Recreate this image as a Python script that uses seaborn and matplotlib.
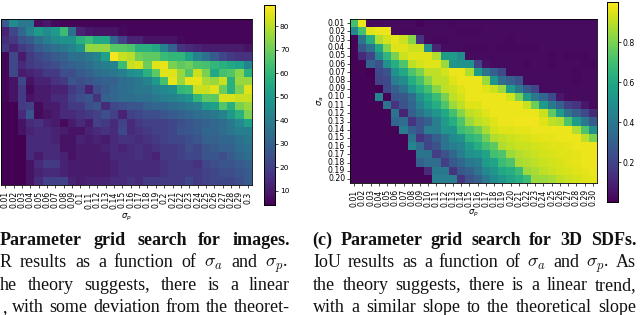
import matplotlib
matplotlib.use("Agg")
import matplotlib.pyplot as plt
import seaborn as sns
import pandas as pd

# values
sigma_p_left = ['0.01', '0.02', '0.03', '0.04', '0.05', '0.06', '0.07', '0.08', '0.09', '0.1',
                '0.11', '0.12', '0.13', '0.14', '0.15', '0.16', '0.17', '0.18', '0.19', '0.2',
                '0.21', '0.22', '0.23', '0.24', '0.25', '0.26', '0.27', '0.28', '0.29', '0.3']
sigma_p_right = ['%.2f' % (i / 100) for i in range(1, 31)]
sigma_a = ['%.2f' % (i / 100) for i in range(1, 21)]

psnr = [
    [28, 45, 38, 38, 7, 9, 6, 5, 5, 5, 5, 5, 5, 5, 5, 5, 5, 5, 5, 5, 5, 5, 5, 5, 5, 5, 5, 5, 5, 5],
    [12, 22, 32, 42, 50, 45, 50, 62, 35, 12, 9, 8, 8, 8, 6, 5, 5, 5, 5, 5, 5, 5, 5, 5, 5, 5, 5, 5, 5, 5],
    [15, 18, 25, 28, 35, 40, 45, 47, 47, 58, 62, 55, 55, 32, 20, 12, 12, 8, 8, 8, 8, 6, 5, 5, 5, 5, 5, 5, 5, 5],
    [18, 12, 18, 22, 28, 32, 35, 38, 42, 48, 75, 75, 75, 67, 67, 65, 58, 58, 55, 42, 30, 17, 14, 12, 10, 10, 10, 10, 10, 8],
    [5, 22, 10, 18, 22, 25, 28, 30, 35, 35, 38, 42, 52, 88, 82, 80, 70, 68, 68, 62, 60, 60, 52, 42, 36, 28, 22, 18, 16, 16],
    [5, 22, 14, 18, 20, 22, 24, 28, 30, 32, 34, 38, 40, 42, 62, 82, 84, 70, 85, 86, 72, 68, 70, 65, 64, 60, 58, 55, 52, 42],
    [5, 22, 10, 12, 14, 18, 18, 24, 24, 28, 30, 34, 36, 38, 40, 46, 48, 58, 68, 85, 85, 76, 66, 82, 72, 55, 64, 66, 74, 58],
    [5, 8, 22, 8, 12, 12, 16, 18, 26, 24, 26, 28, 30, 30, 34, 36, 38, 42, 50, 64, 86, 76, 86, 86, 78, 76, 82, 58, 76, 76],
    [5, 8, 18, 6, 10, 10, 12, 12, 18, 22, 12, 24, 28, 32, 34, 36, 38, 38, 42, 44, 46, 60, 62, 82, 82, 85, 70, 58, 72, 85],
    [5, 8, 18, 8, 10, 10, 14, 14, 20, 24, 26, 16, 30, 32, 34, 34, 36, 36, 38, 40, 42, 44, 48, 60, 68, 68, 84, 84, 82, 82],
    [4, 4, 18, 20, 6, 10, 10, 14, 18, 18, 24, 26, 14, 22, 24, 26, 26, 30, 32, 32, 34, 36, 38, 40, 50, 52, 66, 58, 72, 76],
    [4, 4, 14, 26, 6, 8, 10, 14, 14, 16, 18, 20, 24, 20, 12, 20, 22, 24, 24, 26, 28, 30, 32, 34, 36, 38, 42, 50, 58, 72],
    [4, 4, 8, 14, 16, 12, 10, 6, 10, 14, 10, 20, 18, 14, 20, 14, 18, 20, 20, 20, 22, 24, 26, 28, 30, 32, 34, 38, 44, 52],
    [4, 4, 8, 12, 14, 14, 12, 10, 8, 8, 12, 14, 16, 14, 22, 14, 16, 18, 20, 20, 22, 26, 26, 28, 32, 32, 34, 38, 40, 40],
    [4, 4, 4, 14, 14, 14, 12, 8, 8, 12, 10, 12, 10, 14, 16, 16, 14, 16, 18, 20, 22, 22, 24, 26, 30, 30, 32, 32, 36, 38],
    [4, 4, 4, 14, 14, 14, 14, 8, 8, 10, 10, 10, 12, 14, 12, 14, 16, 14, 16, 18, 18, 20, 24, 22, 26, 28, 30, 30, 34, 36],
    [4, 4, 4, 14, 10, 14, 14, 12, 8, 10, 10, 10, 10, 14, 14, 14, 16, 14, 12, 18, 18, 20, 22, 22, 26, 26, 24, 28, 32, 34],
    [4, 4, 4, 8, 14, 18, 18, 12, 10, 10, 10, 10, 10, 12, 14, 14, 14, 14, 14, 16, 18, 18, 18, 16, 22, 24, 26, 26, 28, 30],
    [4, 4, 4, 8, 12, 14, 14, 12, 10, 10, 10, 10, 10, 12, 14, 14, 14, 14, 14, 16, 18, 18, 18, 18, 20, 22, 24, 24, 26, 28],
    [4, 4, 4, 8, 14, 20, 20, 20, 12, 10, 12, 12, 12, 14, 14, 16, 14, 18, 18, 18, 18, 18, 22, 18, 20, 22, 22, 22, 24, 28],
]

iou = [
    [.70, .97, .02, .02, .03, .03, .03, .03, .01, .03, .03, .03, .02, .03, .03, .03, .03, .03, .03, .03, .03, .03, .03, .03, .03, .03, .03, .03, .03, .03],
    [.47, .70, .95, .97, .97, .03, .02, .02, .03, .03, .03, .03, .03, .02, .02, .02, .03, .03, .03, .03, .03, .03, .03, .03, .03, .03, .03, .03, .03, .03],
    [.01, .38, .62, .88, .93, .96, .92, .82, .15, .03, .02, .02, .03, .03, .03, .03, .03, .03, .03, .02, .03, .03, .03, .03, .03, .03, .03, .03, .03, .03],
    [.01, .27, .38, .60, .82, .95, .95, .92, .92, .48, .10, .03, .03, .03, .02, .02, .02, .03, .02, .02, .02, .02, .02, .03, .03, .03, .03, .03, .03, .03],
    [.01, .12, .20, .48, .65, .80, .92, .95, .95, .95, .88, .55, .55, .48, .03, .03, .03, .03, .03, .03, .03, .03, .03, .03, .02, .03, .02, .02, .02, .03],
    [.01, .01, .32, .25, .50, .62, .72, .90, .93, .95, .95, .85, .52, .50, .50, .20, .04, .03, .03, .03, .03, .02, .03, .03, .02, .03, .03, .03, .02, .02],
    [.01, .01, .00, .22, .25, .50, .60, .72, .80, .90, .90, .93, .97, .97, .88, .55, .38, .30, .22, .03, .03, .03, .03, .03, .03, .03, .03, .02, .03, .03],
    [.01, .01, .01, .20, .22, .42, .48, .62, .70, .82, .90, .90, .95, .97, .97, .97, .85, .52, .35, .30, .25, .03, .03, .03, .03, .03, .03, .02, .03, .03],
    [.01, .01, .01, .00, .22, .30, .38, .52, .62, .70, .82, .90, .92, .95, .97, .97, .95, .92, .85, .55, .40, .28, .20, .03, .03, .03, .03, .03, .03, .03],
    [.01, .01, .01, .45, .01, .25, .27, .35, .50, .60, .68, .80, .90, .93, .97, .97, .97, .97, .97, .93, .80, .55, .40, .33, .22, .06, .03, .03, .03, .03],
    [.01, .01, .01, .01, .38, .15, .25, .33, .45, .55, .62, .72, .85, .90, .95, .95, .97, .97, .97, .97, .97, .92, .78, .55, .40, .30, .18, .15, .06, .03],
    [.01, .01, .01, .01, .01, .38, .10, .30, .38, .45, .52, .60, .70, .82, .90, .92, .95, .97, .97, .97, .97, .97, .97, .92, .75, .55, .38, .30, .22, .12],
    [.01, .01, .01, .01, .01, .33, .35, .15, .25, .30, .42, .55, .62, .72, .85, .90, .92, .95, .97, .97, .98, .98, .98, .95, .90, .88, .72, .55, .40, .28],
    [.01, .01, .01, .01, .01, .01, .42, .30, .25, .42, .42, .52, .52, .68, .72, .78, .87, .93, .95, .95, .96, .96, .97, .97, .97, .97, .97, .88, .72, .50],
    [.01, .01, .01, .01, .01, .01, .01, .38, .15, .22, .30, .38, .48, .50, .65, .68, .78, .88, .90, .92, .93, .94, .95, .96, .96, .97, .97, .97, .90, .80],
    [.01, .01, .01, .01, .01, .01, .01, .45, .35, .20, .25, .38, .42, .45, .55, .62, .70, .75, .88, .90, .92, .92, .93, .94, .95, .95, .96, .97, .97, .97],
    [.01, .01, .01, .01, .01, .01, .01, .01, .38, .38, .18, .25, .33, .42, .50, .52, .58, .70, .72, .85, .88, .90, .92, .93, .94, .95, .95, .96, .97, .97],
    [.01, .01, .01, .01, .01, .01, .01, .01, .30, .35, .35, .18, .28, .33, .40, .42, .55, .58, .68, .72, .87, .88, .90, .92, .93, .94, .95, .96, .97, .97],
    [.01, .01, .01, .01, .01, .01, .01, .01, .01, .12, .40, .40, .15, .27, .30, .38, .47, .52, .60, .62, .68, .85, .87, .90, .92, .93, .94, .95, .96, .97],
    [.01, .01, .01, .01, .01, .01, .01, .01, .01, .01, .42, .42, .42, .15, .25, .30, .40, .48, .52, .58, .62, .68, .85, .85, .87, .90, .92, .93, .95, .96],
]

W, H = 640, 315
CAPTION_SIZE = 13.0


def px_axes(x0, y0, x1, y1):
    # pixel box, y from the top of the picture
    return fig.add_axes([x0 / W, 1 - y1 / H, (x1 - x0) / W, (y1 - y0) / H])


def justify(line, x0, x1, y, **kw):
    # spread the words of a caption line between two pixel positions
    items = [fig.text(0, 1 - y / H, w, fontsize=CAPTION_SIZE, family='Liberation Serif',
                      math_fontfamily='cm', va='baseline', ha='left', color='#111111', **kw)
             for w in line.split(' ')]
    rend = fig.canvas.get_renderer()
    widths = [t.get_window_extent(rend).width for t in items]
    gap = (x1 - x0 - sum(widths)) / max(len(items) - 1, 1)
    x = x0
    for t, wd in zip(items, widths):
        t.set_x(x / W)
        x += wd + gap


fig = plt.figure(figsize=(W / 100, H / 100), dpi=100)

# --- left heatmap ---
ax1 = px_axes(1, 19, 252, 185)
cax1 = px_axes(264, 5, 275, 205)
df1 = pd.DataFrame(psnr, index=sigma_a, columns=sigma_p_left)
sns.heatmap(df1, ax=ax1, cbar_ax=cax1, cmap='viridis', vmin=4, vmax=89,
            xticklabels=True, yticklabels=False)
ax1.tick_params(axis='x', labelsize=5.6, labelrotation=90, length=2, width=0.5, pad=2.5)
ax1.set_ylabel('')
ax1.set_xlabel(r'$\sigma_p$', fontsize=6, labelpad=2.5)
cax1.set_yticks([10, 20, 30, 40, 50, 60, 70, 80])
cax1.tick_params(labelsize=5.3, length=2, width=0.5, pad=1.5)

# --- right heatmap ---
ax2 = px_axes(350, 19, 597, 183)
cax2 = px_axes(607, 2, 618, 202)
df2 = pd.DataFrame(iou, index=sigma_a, columns=sigma_p_right)
sns.heatmap(df2, ax=ax2, cbar_ax=cax2, cmap='viridis', vmin=0, vmax=1,
            xticklabels=True, yticklabels=True)
ax2.tick_params(axis='x', labelsize=5.6, labelrotation=90, length=2, width=0.5, pad=2.5)
ax2.tick_params(axis='y', labelsize=5.6, labelrotation=0, length=2, width=0.5, pad=1.5)
ax2.set_xlabel(r'$\sigma_p$', fontsize=6, labelpad=1)
ax2.set_ylabel(r'$\sigma_a$', fontsize=6, labelpad=1)
cax2.set_yticks([0.2, 0.4, 0.6, 0.8])
cax2.tick_params(labelsize=5.6, length=2, width=0.5, pad=1.5)

for a in [ax1, ax2, cax1, cax2]:
    for s in a.spines.values():
        s.set_visible(True)
        s.set_linewidth(0.6)
        s.set_color('black')

# --- captions ---
justify('Parameter grid search for images.', 0, 290, 245, weight='bold')
justify(r'R results as a function of $\sigma_a$ and $\sigma_p$.', 0, 288, 267)
justify('he theory suggests, there is a linear', 0, 290, 290)
justify(', with some deviation from the theoret-', 2, 290, 312)

justify('(c) Parameter grid search for 3D SDFs.', 312, 636, 245, weight='bold')
justify(r'IoU results as a function of $\sigma_a$ and $\sigma_p$. As', 313, 636, 267)
justify('the theory suggests, there is a linear trend,', 313, 636, 290)
justify('with a similar slope to the theoretical slope', 313, 636, 312)

plt.savefig('out.png', dpi=100)
plt.close()
